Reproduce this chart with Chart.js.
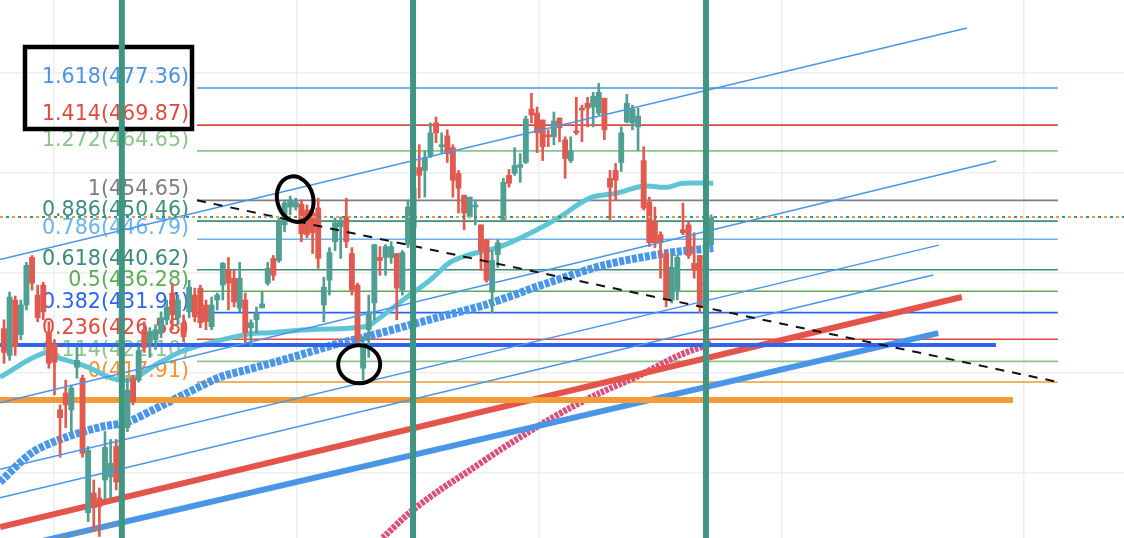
<!DOCTYPE html>
<html>
<head>
<meta charset="utf-8">
<script src="https://cdn.jsdelivr.net/npm/chart.js@4.4.0/dist/chart.umd.min.js"></script>
<style>
  html, body { margin: 0; padding: 0; background: #fff; }
  #wrap { width: 1124px; height: 538px; }
</style>
</head>
<body>
<div id="wrap"><canvas id="chart" width="1124" height="538"></canvas></div>
<script>
// Candles, one row per bar: [open, high, low, close]
const candles = [
  [428.7,430.5,421.7,423.9],[423.3,436.1,422.3,435.1],[434.5,435.3,423.3,425.1],[427.5,434.5,426.5,433.5],
  [433.5,442.1,432.5,441.5],[443.1,443.5,436.5,437.9],[435.5,437.5,430.1,430.9],[437.5,438.1,430.5,432.1],
  [427.9,430.1,420.7,421.7],[425.5,426.5,415.3,421.9],[412.3,413.3,402.7,410.7],[415.7,418.3,408.7,413.3],
  [412.3,417.3,407.9,416.7],[420.9,425.1,418.7,422.3],[418.7,419.3,402.7,403.5],[391.5,404.9,389.7,404.1],
  [395.5,398.1,387.7,392.5],[394.5,396.5,386.7,392.7],[398.1,407.9,394.1,404.7],[398.7,406.3,394.5,401.5],
  [404.9,406.3,396.1,397.7],[401.1,412.3,400.1,410.3],[408.7,418.7,407.9,416.3],[418.7,419.3,413.3,413.9],
  [418.3,425.1,417.9,424.3],[428.5,430.1,423.9,424.9],[425.9,428.9,422.9,428.1],[426.5,429.5,424.5,428.5],
  [428.1,432.1,426.9,430.9],[430.5,434.5,429.5,433.1],[435.9,437.9,428.5,431.5],[430.9,435.5,429.5,434.5],
  [429.9,431.5,426.1,427.1],[432.1,438.5,430.9,437.1],[435.5,436.9,430.1,431.1],[436.9,437.5,428.9,429.9],
  [433.5,434.5,428.5,430.1],[429.1,435.1,428.5,433.5],[434.5,435.9,432.5,435.5],[437.5,442.1,434.5,441.9],
  [440.5,443.1,432.5,437.9],[438.9,440.5,433.1,434.1],[432.9,442.1,432.1,438.9],[434.5,435.9,425.9,427.9],
  [428.9,430.5,425.1,429.9],[430.5,433.1,427.9,431.9],[432.9,436.1,432.9,433.7],[437.9,442.1,437.5,440.9],
  [442.9,443.5,438.5,439.5],[442.5,451.1,442.1,450.3],[449.7,454.7,448.3,454.1],[453.3,455.5,451.7,454.7],
  [453.3,455.1,452.7,454.3],[453.9,454.7,446.3,447.9],[452.7,453.7,447.1,447.7],[452.1,453.1,443.9,448.1],
  [453.1,455.1,440.9,442.9],[433.5,439.1,430.1,437.1],[438.5,445.1,435.5,444.1],[446.3,451.1,444.5,450.1],
  [449.3,451.3,442.9,450.3],[451.3,455.1,445.1,446.3],[443.9,445.1,435.5,436.5],[437.5,437.9,425.5,426.5],
  [420.7,427.1,418.3,425.1],[428.5,435.5,422.9,432.1],[433.9,445.7,430.5,445.7],[443.1,445.3,439.5,442.5],
  [443.1,445.7,439.5,445.3],[443.1,446.3,441.9,445.3],[443.9,443.9,430.5,436.9],[436.5,444.5,435.5,444.1],
  [445.7,454.7,445.1,453.3],[449.1,458.1,448.3,457.1],[461.3,465.9,455.1,459.7],[460.7,464.7,455.3,463.3],
  [463.7,470.3,463.3,468.3],[470.3,471.5,466.3,468.3],[465.5,468.3,464.3,465.9],[467.7,468.9,462.3,464.1],
  [465.3,465.9,455.3,458.7],[460.1,460.7,452.1,457.1],[455.7,455.7,448.7,452.1],[451.3,455.3,451.1,455.3],
  [453.3,454.7,449.7,453.7],[449.7,449.7,440.5,444.5],[446.7,446.7,438.1,438.5],[436.1,444.5,431.9,442.5],
  [443.7,446.7,441.1,446.1],[450.7,459.1,450.7,458.3],[459.7,460.9,457.3,458.1],[460.1,465.3,459.7,461.7],
  [461.3,464.1,458.3,461.9],[462.3,471.7,462.1,471.1],[473.1,476.3,470.3,471.9],[472.3,473.5,464.3,468.3],
  [470.9,470.9,462.7,465.5],[467.9,468.9,465.5,467.5],[467.5,472.5,465.9,470.7],[471.3,471.3,466.5,469.3],
  [466.9,467.5,459.1,463.1],[462.7,467.5,462.3,464.7],[468.7,475.5,467.9,468.3],[473.3,473.9,466.5,472.9],
  [474.3,475.5,469.5,473.3],[473.5,476.5,469.5,475.7],[472.3,478.3,471.9,476.5],[475.3,475.3,466.9,468.9],
  [459.1,460.7,450.7,457.3],[460.7,462.1,454.7,458.7],[462.3,469.5,460.5,468.3],[470.5,476.1,470.3,474.3],
  [470.3,473.9,468.9,473.1],[469.5,473.3,464.7,471.7],[462.7,465.5,452.7,453.1],[454.3,455.3,445.3,446.1],
  [450.3,453.3,445.1,446.1],[447.7,448.3,438.9,446.1],[443.9,444.5,433.1,434.5],[434.5,444.1,433.9,441.1],
  [436.5,443.5,434.5,443.1],[448.7,454.1,447.7,448.1],[449.7,450.3,442.9,443.5],[441.9,448.1,438.9,440.5],
  [443.5,443.5,431.9,433.1],[438.1,440.5,435.9,437.5],[445.7,451.7,445.7,451.3]
];

// Fibonacci retracement levels
const fibRatios = ['1.618', '1.414', '1.272', '1', '0.886', '0.786', '0.618', '0.5', '0.382', '0.236', '0.114', '0'];
const fibPrices = [477.36, 469.87, 464.65, 454.65, 450.46, 446.79, 440.62, 436.28, 431.94, 426.58, 422.10, 417.91];
const fibColors = ['#4a93e4', '#e0493f', '#8cc589', '#7b7e88', '#3b8f7e', '#6cb1ef',
                   '#3a8b78', '#5eab56', '#2b63f5', '#e0493f', '#8cc589', '#f0962f'];
const fibFrom = 34.4, fibTo = 187.8;

// Moving averages (bar index / price)
const cyanX = [-0.7, 6.95, 9.4, 14.1, 21.6, 27.8, 32.6, 43, 47.4, 54, 64.3, 66.5, 71.1, 75.9, 79.5, 82.5, 88.4, 94.3, 99.1, 104.4, 109.2, 113.9, 118.2, 121, 126.4];
const cyanY = [418.9, 423.7, 422.9, 421.3, 418.3, 421.9, 424.5, 427.5, 427.9, 428.5, 429.1, 430.5, 434.5, 438.5, 442.1, 443.5, 445.3, 448.3, 451.3, 455.1, 456.1, 457.5, 457.3, 458.1, 458.1];
const blueMaX = [-0.7, 5.2, 11.2, 17.1, 21.9, 26.6, 32.6, 38.5, 43, 51, 59.9, 64.3, 77.7, 85.7, 96.8, 107.1, 118.2, 126.4];
const blueMaY = [397.7, 403.8, 406.8, 408.8, 409.8, 412.3, 415.7, 418.9, 420.3, 422.8, 425.8, 427.0, 431.1, 433.5, 437.9, 441.6, 444.0, 445.0];
const pinkX = [67.5, 72.4, 77.7, 83.05, 88.4, 95.5, 100.9, 106.2, 113.3, 120.5, 126.2];
const pinkY = [386.4, 391.6, 396.1, 400.1, 404.2, 409.2, 412.7, 415.7, 419.3, 423.4, 425.8];

// Drawn lines: [x0, price0, x1, price1]
const channelLines = [
  [-0.7, 442.7, 171.6, 489.5],
  [-0.7, 413.7, 176.8, 462.6],
  [-0.7, 400.3, 166.6, 445.6],
  [-0.7, 394.5, 165.6, 439.55]
];
const redTrend = [-0.7, 388.6, 170.7, 435.1];
const blueTrend = [-0.7, 383.8, 166.5, 427.8];
const blackDashed = [34.4, 454.65, 187.9, 417.91];
const grayDashed = [10, 386.4, 21.6, 389.8];
const orangeLevel = [-0.7, 414.3, 179.8, 414.3];
const blueLevel = [-0.7, 425.4, 176.8, 425.4];
const vLines = [21.0, 72.9, 125.1];

// Chart frame and light grid
const xMin = -0.71, xMax = 199.6, yMin = 386.38, yMax = 495.16;
const gridX = [8.9, 52.1, 95.3, 138.6, 181.8];
const gridY = [399.5, 419.7, 440.0, 460.2, 480.4];

// Circles drawn on the chart: bar index, price
const circles = [
  { x: 51.9, p: 454.9, rx: 18, ry: 23, rot: -0.25 },
  { x: 63.3, p: 421.5, rx: 21, ry: 19, rot: 0 }
];

const UP = '#4f9f93', DOWN = '#e25a4f';
const lastClose = candles[candles.length - 1][3];

function seg(pts, color, width, extra) {
  return Object.assign({
    type: 'line',
    data: [{ x: pts[0], y: pts[1] }, { x: pts[2], y: pts[3] }],
    borderColor: color,
    borderWidth: width,
    pointRadius: 0,
    fill: false
  }, extra || {});
}

function curve(xs, ys, color, width, extra) {
  return Object.assign({
    type: 'line',
    data: xs.map((x, i) => ({ x: x, y: ys[i] })),
    borderColor: color,
    borderWidth: width,
    pointRadius: 0,
    tension: 0.4,
    fill: false
  }, extra || {});
}

const candleColors = candles.map(c => c[3] >= c[0] ? UP : DOWN);

const datasets = [];

// vertical markers on top
vLines.forEach(v => datasets.push(seg([v, yMin, v, yMax], '#3f9582', 6, { order: 0 })));

// last price line
datasets.push(seg([xMin, lastClose, xMax, lastClose], '#f29b38', 2, { order: 1, borderDash: [3, 9] }));
datasets.push(seg([xMin, lastClose, xMax, lastClose], '#3b9483', 2, { order: 1, borderDash: [3, 9], borderDashOffset: 6 }));

// drawn lines over candles
datasets.push(seg(blackDashed, '#111111', 2, { order: 1.5, borderDash: [9, 8] }));
datasets.push(seg(grayDashed, '#8a8a8a', 2, { order: 1.5, borderDash: [8, 8] }));
channelLines.forEach(l => datasets.push(seg(l, '#4a96e6', 1.5, { order: 1.6 })));

// candles
datasets.push({
  type: 'bar',
  data: candles.map((c, i) => ({ x: i, y: [Math.min(c[0], c[3]), Math.max(c[0], c[3])] })),
  backgroundColor: candleColors,
  barThickness: 5.2,
  minBarLength: 2,
  grouped: false,
  order: 2
});
datasets.push({
  type: 'bar',
  data: candles.map((c, i) => ({ x: i, y: [c[2], c[1]] })),
  backgroundColor: candleColors,
  barThickness: 2,
  grouped: false,
  order: 3
});

// thick trend and level lines
datasets.push(seg(orangeLevel, '#f29b38', 6, { order: 4 }));
datasets.push(seg(blueLevel, '#2f63f0', 4, { order: 4 }));
datasets.push(seg(redTrend, '#e4544a', 6, { order: 4 }));
datasets.push(seg(blueTrend, '#4a96e6', 6, { order: 4 }));

// moving averages
datasets.push(curve(cyanX, cyanY, '#5fc4d8', 5, { order: 5 }));
datasets.push(curve(blueMaX, blueMaY, '#4a97ea', 8, { order: 5, borderDash: [5, 1.5], tension: 0.3 }));
datasets.push(curve(pinkX, pinkY, '#d9507f', 6.5, { order: 5, borderDash: [3.5, 1.2], tension: 0.3 }));

// fib levels
fibPrices.forEach((p, i) => datasets.push(seg([fibFrom, p, fibTo, p], fibColors[i], 1.6, { order: 8 })));

const annotations = {
  id: 'annotations',
  beforeDatasetsDraw(chart) {
    const { ctx, scales: { x, y } } = chart;
    ctx.save();
    ctx.font = '20.6px "DejaVu Sans"';
    ctx.textAlign = 'right';
    ctx.textBaseline = 'alphabetic';
    const right = x.getPixelForValue(fibFrom) - 8;
    fibRatios.forEach((r, i) => {
      ctx.fillStyle = fibColors[i];
      ctx.fillText(r + '(' + fibPrices[i].toFixed(2) + ')', right, y.getPixelForValue(fibPrices[i]) - 5);
    });
    // highlight box round the two top levels
    ctx.strokeStyle = '#000';
    ctx.lineWidth = 4.5;
    ctx.strokeRect(25, 47, 167, 82);
    ctx.restore();
  },
  afterDatasetsDraw(chart) {
    const { ctx, scales: { x, y } } = chart;
    ctx.save();
    ctx.strokeStyle = '#000';
    ctx.lineWidth = 4;
    circles.forEach(c => {
      ctx.beginPath();
      ctx.ellipse(x.getPixelForValue(c.x), y.getPixelForValue(c.p), c.rx, c.ry, c.rot, 0, Math.PI * 2);
      ctx.stroke();
    });
    ctx.restore();
  }
};

new Chart(document.getElementById('chart'), {
  type: 'line',
  data: { datasets: datasets },
  options: {
    responsive: false,
    animation: false,
    events: [],
    layout: { padding: 0 },
    plugins: { legend: { display: false }, tooltip: { enabled: false } },
    scales: {
      x: {
        type: 'linear', min: xMin, max: xMax, offset: false,
        afterBuildTicks: s => { s.ticks = gridX.map(v => ({ value: v })); },
        ticks: { display: false },
        grid: { color: '#eeeeef', lineWidth: 1.5, drawTicks: false, tickLength: 0, offset: false },
        border: { display: false }
      },
      y: {
        type: 'linear', min: yMin, max: yMax,
        afterBuildTicks: s => { s.ticks = gridY.map(v => ({ value: v })); },
        ticks: { display: false },
        grid: { color: '#eeeeef', lineWidth: 1.5, drawTicks: false, tickLength: 0 },
        border: { display: false }
      }
    }
  },
  plugins: [annotations]
});
</script>
</body>
</html>
